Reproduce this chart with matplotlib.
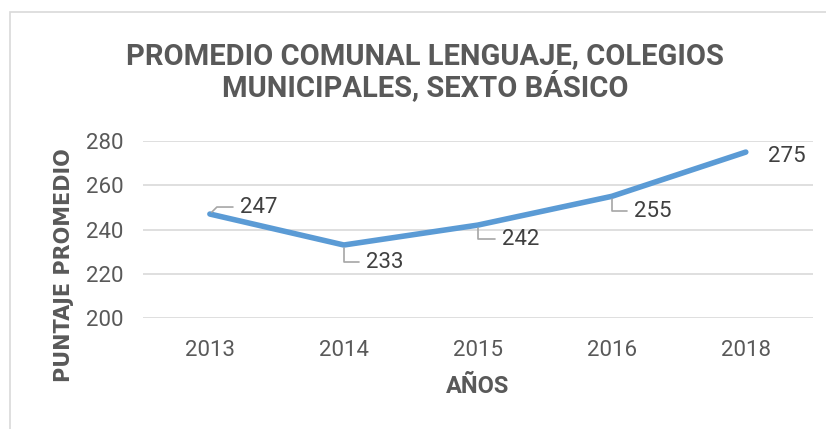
import matplotlib
matplotlib.use("Agg")
import matplotlib.pyplot as plt
from matplotlib.patches import Rectangle

# data
years = ["2013", "2014", "2015", "2016", "2018"]
scores = [247, 233, 242, 255, 275]
yticks = [200, 220, 240, 260, 280]
# label offsets in pixels (dx, dy) from each point
label_offsets = [(30, 7), (22, -17), (24, -14), (22, -15), (22, -4)]
leader_angle = [45, 90, 90, 90, None]

gray = "#595959"
narrow = ["Roboto", "DejaVu Sans"]

fig = plt.figure(figsize=(8.26, 4.29), dpi=100)
ax = fig.add_axes([0.173, 0.2587, 0.811, 0.4126])

# chart outline
fig.patches.append(Rectangle((10 / 826, -0.01), 1.0, (429 - 12) / 429 + 0.01,
                             transform=fig.transFigure, fill=False,
                             edgecolor="#d9d9d9", lw=1.2))

x = list(range(len(years)))
ax.plot(x, scores, color="#5b9bd5", lw=4, solid_capstyle="round",
        solid_joinstyle="round", zorder=3)

for i, v in enumerate(scores):
    dx, dy = label_offsets[i]
    props = None
    if leader_angle[i] is not None:
        props = dict(arrowstyle="-", color="#a6a6a6", lw=1.2,
                     connectionstyle=f"angle,angleA=0,angleB={leader_angle[i]},rad=0",
                     shrinkA=3, shrinkB=2)
    ax.annotate(str(v), (i, v), xytext=(dx, dy), textcoords="offset pixels",
                ha="left", va="center", fontsize=16, color="#404040",
                family=narrow, arrowprops=props)

ax.set_xlim(-0.5, len(years) - 0.5)
ax.set_ylim(200, 280)
ax.set_yticks(yticks)
ax.set_xticks(x)
ax.set_xticklabels(years)
ax.grid(axis="y", color="#d9d9d9", lw=1.2)
ax.set_axisbelow(True)
for s in ax.spines.values():
    s.set_visible(False)
ax.tick_params(length=0, labelsize=16, labelcolor=gray)
for lab in ax.get_xticklabels() + ax.get_yticklabels():
    lab.set_family(narrow)
ax.tick_params(axis="x", pad=16)
ax.tick_params(axis="y", pad=14)

ax.set_xlabel("AÑOS", fontsize=17, fontweight="bold", color=gray,
              family=narrow, labelpad=10)
ax.set_ylabel("PUNTAJE PROMEDIO", fontsize=15, fontweight="bold",
              color=gray, family=["DejaVu Sans"], labelpad=6)
ax.yaxis.set_label_coords(-0.103, 0.3)

fig.text(0.515, 0.831, "PROMEDIO COMUNAL LENGUAJE, COLEGIOS\nMUNICIPALES, SEXTO BÁSICO",
         ha="center", va="center", fontsize=21, fontweight="bold", color=gray,
         family=narrow, linespacing=1.0)

fig.savefig("out.png", dpi=100)
